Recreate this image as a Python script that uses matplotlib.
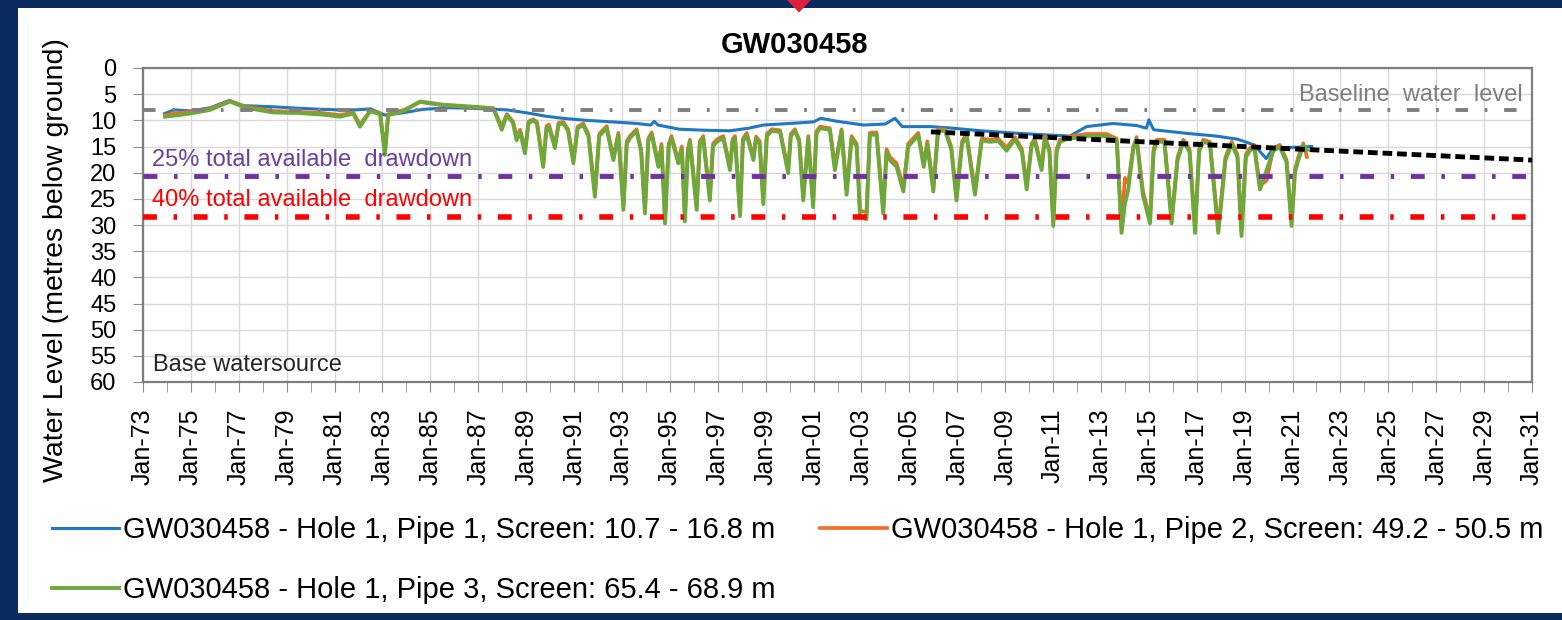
import matplotlib
matplotlib.use("Agg")
import matplotlib.pyplot as plt
from matplotlib.patches import Rectangle, Polygon

plt.rcParams['font.family'] = ['Liberation Sans', 'DejaVu Sans']
plt.rcParams['lines.scale_dashes'] = False

# ---- data (decimal years, metres below ground) ----
pipe1_dates = [1973.9, 1974.3, 1975.0, 1975.8, 1976.6, 1977.2, 1978.4, 1979.5, 1980.5,
               1981.2, 1981.9, 1982.5, 1983.1, 1983.8, 1984.7, 1985.8, 1986.8, 1988.2,
               1989.2, 1989.8, 1990.5, 1991.5, 1992.6, 1993.6, 1994.2, 1994.35, 1994.5,
               1995.4, 1996.5, 1997.5, 1998.3, 1998.9, 2000.0, 2001.0, 2001.3, 2002.0,
               2003.1, 2004.0, 2004.4, 2004.7, 2005.9, 2006.8, 2008.0, 2009.6, 2010.8,
               2011.7, 2012.4, 2013.5, 2014.5, 2014.9, 2015.0, 2015.2, 2016.6, 2017.8,
               2018.7, 2019.4, 2019.9, 2020.2, 2021.4, 2021.8]
pipe1_levels = [8.7, 8.0, 8.2, 7.6, 6.2, 7.2, 7.4, 7.7, 7.9,
                8.0, 8.0, 7.8, 9.0, 8.6, 7.9, 7.6, 7.7, 8.0,
                8.7, 9.2, 9.6, 10.0, 10.3, 10.6, 10.9, 10.2, 10.9,
                11.7, 11.9, 12.0, 11.5, 10.9, 10.6, 10.3, 9.6, 10.2,
                10.9, 10.7, 9.6, 11.2, 11.2, 11.5, 12.0, 12.5, 12.8,
                13.0, 11.2, 10.6, 11.0, 11.5, 9.9, 11.8, 12.5, 13.0,
                13.6, 14.7, 17.3, 15.3, 15.1, 15.0]

pump_dates = [
    1973.92, 1974.5, 1974.96, 1975.8, 1976.63, 1977.3, 1978.44, 1979.5, 1980.5,
    1981.23, 1981.78, 1982.06, 1982.48, 1982.9, 1983.1, 1983.24, 1983.9, 1984.57,
    1985.5, 1986.79, 1987.63, 1987.98, 1988.19, 1988.45, 1988.6, 1988.75, 1988.95,
    1989.1, 1989.3, 1989.45, 1989.71, 1989.85, 1989.95, 1990.2, 1990.35, 1990.55,
    1990.75, 1990.97, 1991.15, 1991.38, 1991.6, 1991.87, 1992.05, 1992.36, 1992.64,
    1992.85, 1993.06, 1993.2, 1993.33, 1993.61, 1993.8, 1993.96, 1994.1, 1994.24,
    1994.52, 1994.65, 1994.8, 1994.95, 1995.07, 1995.35, 1995.5, 1995.63, 1995.75,
    1995.84, 1996.12, 1996.25, 1996.39, 1996.67, 1996.8, 1996.95, 1997.23, 1997.51,
    1997.62, 1997.72, 1997.93, 1998.05, 1998.21, 1998.49, 1998.6, 1998.75, 1998.9,
    1999.05, 1999.25, 1999.6, 1999.94, 2000.05, 2000.22, 2000.4, 2000.57, 2000.78,
    2000.98, 2001.12, 2001.27, 2001.68, 2001.89, 2002.17, 2002.38, 2002.59, 2002.8,
    2002.94, 2003.21, 2003.35, 2003.63, 2003.91, 2004.05, 2004.19, 2004.47, 2004.75,
    2004.95, 2005.15, 2005.37, 2005.6, 2005.75, 2006.0, 2006.2, 2006.49, 2006.75,
    2006.97, 2007.2, 2007.39, 2007.74, 2008.02, 2008.4, 2008.71, 2009.06, 2009.41,
    2009.7, 2009.9, 2010.1, 2010.24, 2010.52, 2010.66, 2010.85, 2011.01, 2011.15,
    2011.29, 2011.57, 2012.0, 2012.4, 2013.24, 2013.66, 2013.86, 2014.0, 2014.14,
    2014.35, 2014.49, 2014.75, 2015.05, 2015.2, 2015.33, 2015.65, 2015.95, 2016.2,
    2016.44, 2016.7, 2016.93, 2017.1, 2017.27, 2017.55, 2017.9, 2018.2, 2018.46,
    2018.7, 2018.87, 2019.05, 2019.22, 2019.4, 2019.64, 2019.92, 2020.2, 2020.47,
    2020.75, 2020.96, 2021.1, 2021.24, 2021.45, 2021.6]
pipe3_levels = [
    9.3, 9.0, 8.7, 8.0, 6.4, 7.6, 8.5, 8.6, 8.9,
    9.3, 8.7, 11.2, 8.3, 8.8, 16.6, 9.0, 8.2, 6.4,
    7.0, 7.4, 7.7, 11.8, 9.0, 10.5, 13.8, 12.2, 16.3,
    10.5, 10.0, 10.6, 18.9, 11.5, 11.2, 15.3, 10.8, 10.6,
    12.0, 18.2, 11.5, 10.9, 13.0, 24.6, 13.0, 11.5, 17.6,
    12.8, 27.1, 14.5, 13.4, 12.0, 16.0, 27.8, 14.0, 12.7,
    18.9, 15.0, 29.7, 15.0, 13.4, 18.2, 15.5, 29.3, 16.0,
    14.1, 27.1, 14.5, 13.4, 25.3, 15.0, 14.1, 13.4, 19.5,
    14.0, 13.4, 28.3, 14.0, 12.8, 17.6, 13.5, 14.5, 26.0,
    13.0, 12.0, 12.2, 20.1, 13.0, 12.0, 14.0, 25.3, 13.4,
    26.6, 12.5, 11.5, 11.8, 19.5, 12.0, 24.2, 13.4, 15.0,
    28.3, 28.9, 12.8, 12.7, 27.8, 16.0, 17.6, 18.9, 23.6,
    15.0, 14.0, 12.8, 18.9, 14.5, 23.6, 12.0, 12.0, 15.5,
    25.3, 14.5, 13.0, 24.2, 13.9, 14.1, 13.9, 15.8, 13.6,
    16.0, 23.2, 15.0, 13.9, 19.5, 13.4, 16.0, 30.2, 16.0,
    14.1, 13.6, 13.3, 13.0, 13.0, 13.9, 31.5, 26.0, 23.2,
    15.5, 13.6, 24.2, 29.7, 16.0, 14.1, 14.1, 29.7, 17.6,
    14.1, 16.0, 31.5, 16.0, 14.1, 14.5, 31.5, 17.6, 14.5,
    17.0, 32.1, 17.0, 15.8, 15.1, 23.2, 19.5, 15.8, 15.1,
    18.0, 30.2, 20.0, 17.6, 14.8, 15.7]
pipe2_levels = [
    9.0, 8.6, 8.4, 7.8, 6.3, 7.4, 8.2, 8.4, 8.6,
    9.0, 8.5, 10.8, 8.2, 8.6, 15.8, 8.8, 8.0, 6.5,
    7.1, 7.5, 7.7, 11.2, 8.8, 10.2, 13.0, 11.8, 15.6,
    10.2, 9.8, 10.3, 18.2, 11.1, 10.8, 14.8, 10.5, 10.3,
    11.7, 17.6, 11.2, 10.6, 12.6, 23.8, 12.6, 11.1, 17.0,
    12.4, 26.3, 14.0, 13.0, 11.7, 15.5, 27.0, 13.5, 12.3,
    18.2, 14.5, 28.9, 14.5, 13.0, 17.6, 15.0, 28.5, 15.5,
    13.7, 26.4, 14.0, 13.0, 24.6, 14.5, 13.7, 13.0, 18.8,
    13.6, 13.0, 27.6, 13.5, 12.4, 17.0, 13.1, 14.0, 25.2,
    12.6, 11.7, 11.9, 19.4, 12.6, 11.7, 13.6, 24.5, 13.0,
    25.8, 12.1, 11.2, 11.5, 18.8, 11.7, 23.4, 13.0, 14.5,
    27.3, 27.5, 12.4, 12.3, 27.0, 15.5, 17.0, 18.2, 22.8,
    14.5, 13.5, 12.4, 18.2, 14.0, 22.8, 11.7, 11.7, 15.0,
    24.5, 14.0, 12.6, 23.4, 13.5, 13.7, 13.5, 15.2, 13.2,
    15.5, 22.5, 14.5, 13.5, 18.8, 13.0, 15.5, 29.4, 15.5,
    13.7, 13.2, 12.9, 12.6, 12.6, 13.5, 30.6, 21.0, 22.0,
    15.0, 13.2, 23.4, 28.9, 15.5, 13.7, 13.7, 28.9, 17.0,
    13.7, 15.5, 30.6, 15.5, 13.7, 14.1, 30.6, 17.0, 14.1,
    16.5, 31.2, 16.5, 15.3, 14.7, 22.5, 21.5, 15.3, 14.7,
    17.5, 29.4, 19.5, 17.0, 14.4, 17.0]

trend_dates = [2005.9, 2031.0]
trend_levels = [12.2, 17.6]

baseline_level = 8.0
drawdown25_level = 20.7
drawdown40_level = 28.4

series_labels = ['GW030458 - Hole 1, Pipe 1, Screen: 10.7 - 16.8 m',
                 'GW030458 - Hole 1, Pipe 2, Screen: 49.2 - 50.5 m',
                 'GW030458 - Hole 1, Pipe 3, Screen: 65.4 - 68.9 m']
tick_years = list(range(1973, 2032, 2))

W, H = 1562, 620
fig = plt.figure(figsize=(W / 100, H / 100), dpi=100, facecolor='#0b2a5f')
fig.patches.append(Rectangle((18 / W, 1 - 613 / H), 1 - 18 / W, (613 - 8) / H,
                             transform=fig.transFigure, facecolor='white',
                             edgecolor='none', zorder=-1))
# red marker at top
fig.patches.append(Polygon([(787 / W, 1.0), (799 / W, 1 - 12.5 / H), (811 / W, 1.0),
                            (799 / W, 1 + 12 / H)], closed=True, transform=fig.transFigure,
                           facecolor='#dc1f3c', edgecolor='none', zorder=5, clip_on=False))

ax = fig.add_axes([143 / W, 1 - 382 / H, (1532 - 143) / W, (382 - 68) / H])

blue, = ax.plot(pipe1_dates, pipe1_levels, color='#1f78c1', lw=2.2, zorder=3)
orange, = ax.plot(pump_dates, pipe2_levels, color='#f36a25', lw=2.6, zorder=3)
green, = ax.plot(pump_dates, pipe3_levels, color='#6fa83a', lw=2.8, zorder=3)

ax.axhline(baseline_level, color='#7f7f7f', lw=2.8, dashes=(9, 12, 2, 12), zorder=4)
ax.axhline(drawdown25_level, color='#7030a0', lw=3.5, dashes=(10, 12, 2.5, 12), zorder=4)
ax.axhline(drawdown40_level, color='#ff0000', lw=4, dashes=(10, 12, 2.5, 12), zorder=4)
ax.plot(trend_dates, trend_levels, color='black', lw=3.5, dashes=(7, 3.5), zorder=5)

ax.text(2030.6, 5.2, 'Baseline  water  level', color='#7f7f7f', fontsize=17,
        ha='right', va='center')
ax.text(1973.38, 17.6, '25% total available  drawdown', color='#6b3fa0', fontsize=17,
        ha='left', va='center')
ax.text(1973.38, 25.2, '40% total available  drawdown', color='#ff0000', fontsize=17,
        ha='left', va='center')
ax.text(1973.42, 56.8, 'Base watersource', color='#262626', fontsize=17,
        ha='left', va='center')

ax.set_xlim(1973, 2031)
ax.set_ylim(60, 0)
ax.set_yticks(range(0, 61, 5))
ax.set_xticks(tick_years)
ax.set_xticklabels(['Jan-%02d' % (y % 100) for y in tick_years])
ax.set_xticks(range(1973, 2032), minor=True)
ax.grid(True, which='major', color='#d9d9d9', lw=1)
ax.tick_params(axis='x', which='both', length=7, color='#8c8c8c', pad=12,
               labelsize=18, labelrotation=90)
ax.tick_params(axis='y', length=7, color='#8c8c8c', pad=12, labelsize=17)
for s in ax.spines.values():
    s.set_color('#7f7f7f')
    s.set_linewidth(1.6)

fig.text(794 / W, 1 - 45 / H, 'GW030458', fontsize=21, fontweight='bold',
         ha='center', va='center')
fig.text(56 / W, 1 - 260 / H, 'Water Level (metres below ground)', fontsize=20.5,
         rotation=90, ha='center', va='center')

fig.legend([blue, green, orange], [series_labels[0], series_labels[2], series_labels[1]],
           ncol=2, loc='upper left', bbox_to_anchor=(52 / W, 1 - 516 / H),
           frameon=False, fontsize=21, handlelength=2.3, handletextpad=0.15,
           columnspacing=1.5, labelspacing=1.1, borderpad=0, borderaxespad=0)

fig.savefig('out.png', dpi=100, facecolor=fig.get_facecolor())
